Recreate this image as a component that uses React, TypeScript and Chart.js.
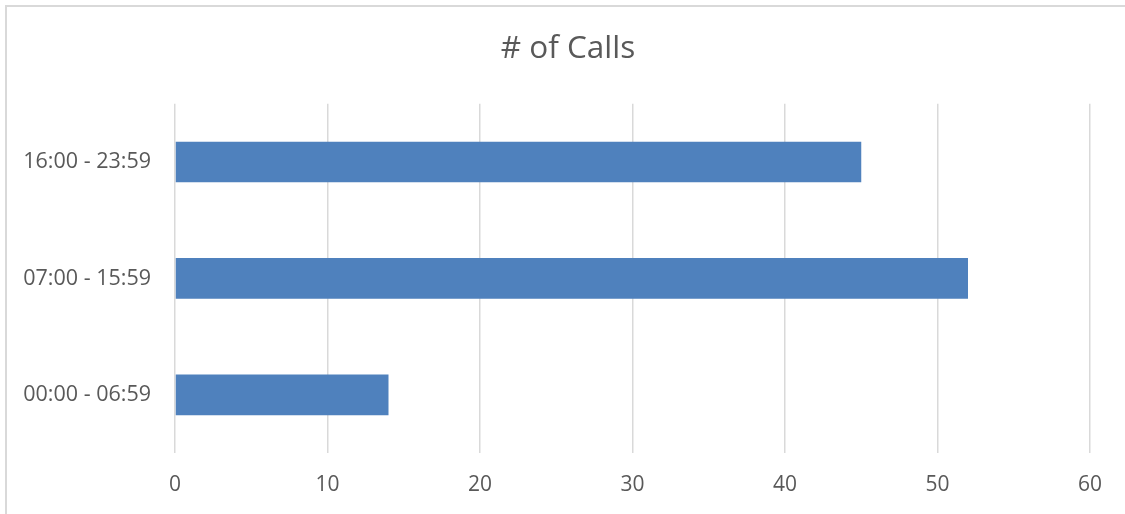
import React, { useEffect, useRef } from "react";
import { Chart, registerables } from "chart.js";

Chart.register(...registerables);

const categories = ["00:00 - 06:59", "07:00 - 15:59", "16:00 - 23:59"];
const calls = [14, 52, 45];
const titleText = "# of Calls";
const xMin = 0;
const xMax = 60;
const xStep = 10;

const FONT = "'Open Sans', sans-serif";
const TEXT = "#595959";
const GRID = "#d9d9d9";
const BAR = "#4f81bd";

const shiftTitle = {
  id: "shiftTitle",
  afterLayout(chart: any) {
    const t = chart.titleBlock;
    if (t) {
      t.left = 46;
      t.right = chart.width - 35;
    }
  },
};

export default function App() {
  const ref = useRef<HTMLCanvasElement | null>(null);

  useEffect(() => {
    if (!ref.current) return;
    const chart = new Chart(ref.current, {
      type: "bar",
      data: {
        labels: categories,
        datasets: [
          {
            label: titleText,
            data: calls,
            backgroundColor: BAR,
            borderWidth: 0,
            barPercentage: 0.35,
            categoryPercentage: 1,
          },
        ],
      },
      options: {
        indexAxis: "y",
        animation: false,
        responsive: false,
        maintainAspectRatio: false,
        layout: { padding: { left: 0, right: 35, top: 0, bottom: 0 } },
        plugins: {
          legend: { display: false },
          tooltip: { enabled: false },
          title: {
            display: true,
            text: titleText,
            color: TEXT,
            font: { family: FONT, size: 31.5, weight: "normal", lineHeight: 1.2 },
            padding: { top: 30, bottom: 36 },
          },
        },
        scales: {
          x: {
            min: xMin,
            max: xMax,
            ticks: {
              stepSize: xStep,
              color: TEXT,
              font: { family: FONT, size: 21, lineHeight: 1.2 },
              padding: 19,
            },
            grid: {
              color: GRID,
              lineWidth: 1.5,
              drawTicks: false,
            },
            border: { display: false },
            afterFit: (scale: any) => {
              scale.height = 61;
            },
          },
          y: {
            reverse: true,
            ticks: {
              color: TEXT,
              font: { family: FONT, size: 21.5, lineHeight: 1.2 },
              padding: 24,
            },
            grid: { display: false, drawTicks: false },
            border: { display: false },
            afterFit: (scale: any) => {
              scale.width = 175;
            },
          },
        },
      },
      plugins: [shiftTitle],
    });
    return () => chart.destroy();
  }, []);

  return (
    <div
      style={{
        position: "absolute",
        left: 0,
        top: 0,
        width: 1125,
        height: 514,
        background: "#fff",
        overflow: "hidden",
      }}
    >
      <div
        style={{
          position: "absolute",
          left: 5,
          top: 5,
          width: 1200,
          height: 600,
          borderTop: `2px solid ${GRID}`,
          borderLeft: `2px solid ${GRID}`,
        }}
      />
      <canvas
        ref={ref}
        width={1125}
        height={514}
        style={{ position: "absolute", left: 0, top: 0 }}
      />
    </div>
  );
}
